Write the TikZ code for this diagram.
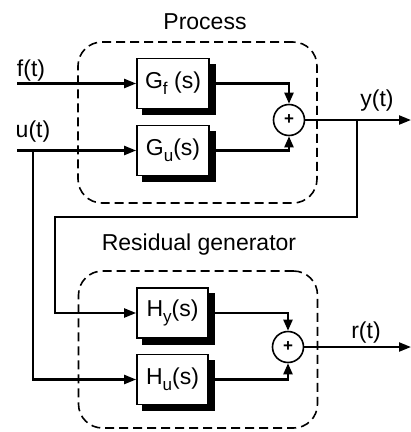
\documentclass[tikz,border=0pt]{standalone}
\usepackage{fontspec}
\setmainfont{Liberation Sans}
\usetikzlibrary{arrows.meta}
\begin{document}
\begin{tikzpicture}[x=1pt,y=-1pt,
  lbl/.style={font=\fontsize{23}{26}\selectfont, inner sep=0pt},
  blk/.style={draw, line width=1.7pt, fill=white, minimum width=72pt, minimum height=50pt, inner sep=0pt,
     font=\fontsize{23}{26}\selectfont},
  shadbox/.style={draw=black, fill=black, line width=1.7pt, minimum width=72pt, minimum height=50pt, inner sep=0pt},
  sumc/.style={draw, circle, line width=1.6pt, minimum size=31pt, inner sep=0pt, font=\bfseries\fontsize{17}{17}\selectfont},
  dashbox/.style={draw, dashed, dash pattern=on 9pt off 5pt, line width=1.6pt, rounded corners=24pt, minimum width=239pt, inner sep=0pt},
  wire/.style={line width=2.2pt},
  arr/.style={wire, -{Triangle[length=12pt,width=9pt]}},
  sarr/.style={wire, -{Triangle[length=11pt,width=9pt]}}
]
\useasboundingbox (0,0) rectangle (411,432);
\newcommand{\sbs}[1]{\raisebox{-0.5ex}{\fontsize{17}{17}\selectfont #1}}

% dashed groups
\node[dashbox, minimum height=161pt] (proc) at (197.5,122.5) {};
\node[dashbox, minimum height=157pt] (resg) at (198,349.5) {};
\node[lbl] (proclbl) at (205,22) {Process};
\node[lbl] (reslbl) at (199,245) {Residual generator};

% shadows
\node[shadbox] (gfs) at (179,89.5) {};
\node[shadbox] (gus) at (179,156.5) {};
\node[shadbox, minimum width=71pt] (hys) at (178.5,319) {};
\node[shadbox, minimum width=71pt] (hus) at (178.5,385.5) {};

% blocks
\node[blk] (gf) at (173,83.5) {G\sbs{f} (s)};
\node[blk] (gu) at (173,150.5) {G\sbs{u}(s)};
\node[blk, minimum width=71pt] (hy) at (172.5,313) {H\sbs{y}(s)};
\node[blk, minimum width=71pt] (hu) at (172.5,379.5) {H\sbs{u}(s)};

\node[sumc] (s1) at (289,120) {+};
\node[sumc] (s2) at (288,347) {+};

% coordinates
\coordinate (fin) at (17,83.5);
\coordinate (uin) at (17,150.5);
\coordinate (ub) at (33,150.5);
\coordinate (yout) at (411,120);
\coordinate (yb) at (357,120);
\coordinate (rout) at (411,347);

% labels
\node[lbl] (fl) at (31,71) {f(t)};
\node[lbl] (ul) at (33,132) {u(t)};
\node[lbl] (yl) at (377,101) {y(t)};
\node[lbl] (rl) at (366,333) {r(t)};

% wires
\draw[arr] (fin) -- (gf.west);
\draw[arr] (uin) -- (gu.west);
\draw[sarr] (gf.east) -| (s1.north);
\draw[sarr] (gu.east) -| (s1.south);
\draw[arr] (s1.east) -- (yout);
\draw[arr] (yb) -- (357,217) -- (55,217) |- (hy.west);
\draw[arr] (ub) |- (hu.west);
\draw[sarr] (hy.east) -| (s2.north);
\draw[sarr] (hu.east) -| (s2.south);
\draw[arr] (s2.east) -- (rout);
\end{tikzpicture}
\end{document}
